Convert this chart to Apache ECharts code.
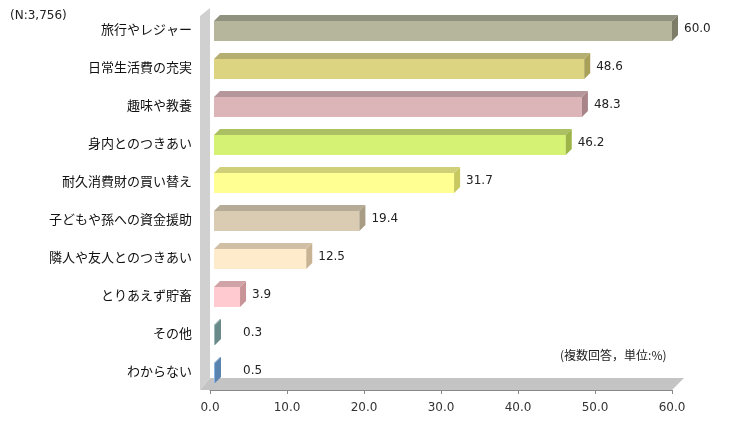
<!DOCTYPE html>
<html><head><meta charset="utf-8">
<script src="https://cdn.jsdelivr.net/npm/echarts@6/dist/echarts.min.js"></script>
<style>html,body{margin:0;background:#fff}#c{width:745px;height:439px}</style>
</head><body><div id="c"></div>
<script>
const categories = ['旅行やレジャー','日常生活費の充実','趣味や教養','身内とのつきあい','耐久消費財の買い替え','子どもや孫への資金援助','隣人や友人とのつきあい','とりあえず貯畜','その他','わからない'];
const values = [60.0, 48.6, 48.3, 46.2, 31.7, 19.4, 12.5, 3.9, 0.3, 0.5];
const faceColors = ['#b6b69c','#ddd482','#dcb5b9','#d6f274','#ffff92','#d9ccb2','#fdebcb','#ffcbd0','#9bbaba','#8cb6e2'];
const sideColors = ['#7e7e68','#a8a058','#a88488','#9cb448','#c8c860','#a89c84','#c8b494','#c89498','#6a8a8a','#5a84b0'];
const xTicks = [0, 10, 20, 30, 40, 50, 60];

const D = 6; // 3D depth
const chart = echarts.init(document.getElementById('c'));
chart.setOption({
  animation: false,
  grid: { left: 210, right: 73, top: 10, bottom: 49 },
  xAxis: {
    type: 'value', min: 0, max: 60, interval: 10,
    axisLine: { show: true, lineStyle: { color: '#888' } },
    axisTick: { show: true, length: 4, lineStyle: { color: '#888' } },
    splitLine: { show: false },
    axisLabel: { color: '#333', fontSize: 12, margin: 12, fontFamily: 'DejaVu Sans',
      formatter: v => xTicks.includes(v) ? v.toFixed(1) : '' }
  },
  yAxis: {
    type: 'category', inverse: true, data: categories,
    axisLine: { show: false }, axisTick: { show: false },
    axisLabel: { color: '#111', fontSize: 13, margin: 18, fontFamily: 'Noto Sans CJK JP' }
  },
  graphic: [
    { id: 'n', type: 'text', left: 10, top: 10, style: { text: '(N:3,756)', fontSize: 12, fill: '#222', fontFamily: 'DejaVu Sans' } },
    { id: 'unit', type: 'text', left: 560, top: 349, style: { text: '(複数回答，単位:%)', fontSize: 12, fill: '#222', fontFamily: 'Noto Sans CJK JP' } }
  ],
  series: [{
    type: 'custom',
    data: values.map((v, i) => [v, i]),
    renderItem: (params, api) => {
      const i = api.value(1);
      const p0 = api.coord([0, i]);
      const p1 = api.coord([api.value(0), i]);
      const h = 20;
      const x0 = p0[0] + 4, x1 = Math.max(p1[0], x0 + 1), t = p0[1] - h / 2 + 2, b = p0[1] + h / 2 + 2;
      return { type: 'group', children: [
        { type: 'rect', shape: { x: x0, y: t, width: x1 - x0, height: b - t }, style: { fill: faceColors[i] } },
        { type: 'polygon', shape: { points: [[x0, t], [x1, t], [x1 + D, t - D], [x0 + D, t - D]] }, style: { fill: sideColors[i], opacity: 0.85 } },
        { type: 'polygon', shape: { points: [[x1, t], [x1 + D, t - D], [x1 + D, b - D], [x1, b]] }, style: { fill: sideColors[i] } },
        { type: 'text', style: { text: api.value(0).toFixed(1), x: Math.max(x1 + D + 6, p0[0] + 33), y: p0[1], verticalAlign: 'middle', fontSize: 12, fill: '#222', fontFamily: 'DejaVu Sans' } }
      ] };
    }
  }]
});

// side wall and floor behind bars
const a = chart.convertToPixel({ gridIndex: 0 }, [0, 0]);
const z = chart.convertToPixel({ gridIndex: 0 }, [60, 0]);
const wallTop = 8, floorY = 390;
chart.setOption({ graphic: [
  { id: 'wall', type: 'polygon', z: -1, shape: { points: [[a[0] - 10, wallTop + 8], [a[0], wallTop], [a[0], floorY - 12], [a[0] - 10, floorY]] }, style: { fill: '#d0d0d0' } },
  { id: 'floor', type: 'polygon', z: -1, shape: { points: [[a[0] - 10, floorY], [a[0], floorY - 12], [z[0] + 12, floorY - 12], [z[0], floorY]] }, style: { fill: '#c4c4c4' } }
] });
</script></body></html>
